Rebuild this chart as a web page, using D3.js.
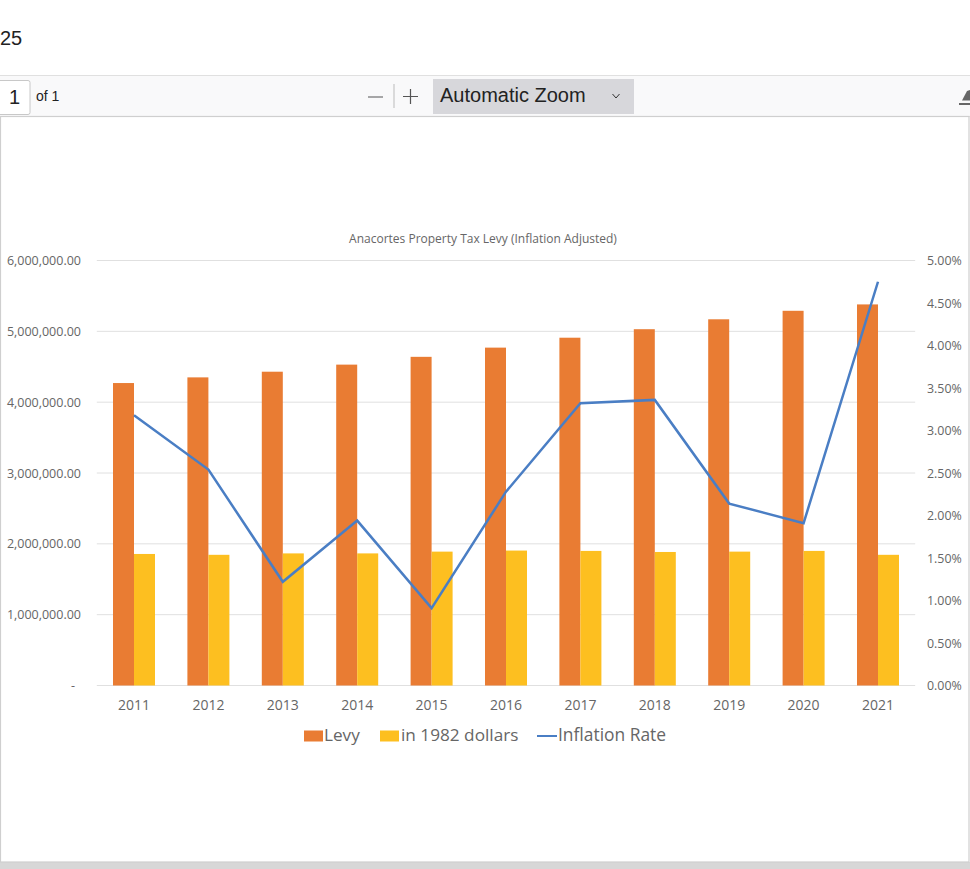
<!DOCTYPE html>
<html>
<head>
<meta charset="utf-8">
<script src="https://cdn.jsdelivr.net/npm/d3@7"></script>
<style>
  html, body { margin: 0; padding: 0; background: #fff; overflow: hidden; }
  svg { display: block; }
  .ui { font-family: "Liberation Sans", Arial, sans-serif; fill: #222; }
  .chart text { font-family: "Open Sans", sans-serif; fill: #666; }
</style>
</head>
<body>
<div id="page"></div>
<script>
'use strict';

var years = [2011, 2012, 2013, 2014, 2015, 2016, 2017, 2018, 2019, 2020, 2021];
var levy = [4270000, 4350000, 4430000, 4530000, 4640000, 4770000, 4910000, 5030000, 5170000, 5290000, 5380000];
var dollars1982 = [1857000, 1845000, 1865000, 1865000, 1890000, 1905000, 1900000, 1885000, 1890000, 1900000, 1845000];
var inflation = [3.18, 2.54, 1.22, 1.94, 0.91, 2.28, 3.32, 3.36, 2.14, 1.91, 4.75];
var leftTicks = [0, 1000000, 2000000, 3000000, 4000000, 5000000, 6000000];
var rightTicks = [0, 0.5, 1, 1.5, 2, 2.5, 3, 3.5, 4, 4.5, 5];

var svg = d3.select('#page').append('svg').attr('width', 970).attr('height', 869);

// viewer chrome
svg.append('rect').attr('width', 970).attr('height', 869).attr('fill', '#fff');
svg.append('text').attr('class', 'ui').attr('x', 0).attr('y', 45).attr('font-size', 20).text('25');
svg.append('rect').attr('x', -1).attr('y', 75.5).attr('width', 972).attr('height', 41).attr('fill', '#f9f9fa').attr('stroke', '#e0e0e0');
svg.append('rect').attr('x', -5).attr('y', 80.5).attr('width', 35).attr('height', 34).attr('rx', 2).attr('fill', '#fff').attr('stroke', '#c8c8c8');
svg.append('text').attr('class', 'ui').attr('x', 9).attr('y', 104).attr('font-size', 20).text('1');
svg.append('text').attr('class', 'ui').attr('x', 36).attr('y', 101).attr('font-size', 14).text('of 1');
svg.append('path').attr('d', 'M368 97 H383 M410.5 89 V104 M403 96.5 H418').attr('fill', 'none').attr('stroke', '#555').attr('stroke-width', 1.2);
svg.append('line').attr('x1', 394).attr('x2', 394).attr('y1', 84).attr('y2', 108).attr('stroke', '#bbb');
svg.append('rect').attr('x', 433).attr('y', 79).attr('width', 201).attr('height', 35).attr('fill', '#d7d7db');
svg.append('text').attr('class', 'ui').attr('x', 440).attr('y', 102).attr('font-size', 20).text('Automatic Zoom');
svg.append('path').attr('d', 'M612.5 94 L616 98 L619.5 94').attr('fill', 'none').attr('stroke', '#333');
svg.append('path').attr('d', 'M962 100.5 L967 91 L970 90 V100.5 Z').attr('fill', '#666');
svg.append('rect').attr('x', 959).attr('y', 103).attr('width', 11).attr('height', 2).attr('fill', '#666');

// pdf page
svg.append('rect').attr('x', 0).attr('y', 862).attr('width', 970).attr('height', 7).attr('fill', '#d7d7d7');
svg.append('rect').attr('x', 0.5).attr('y', 116.5).attr('width', 968.5).attr('height', 745.5).attr('fill', '#fff').attr('stroke', '#cfcfcf').attr('stroke-width', 1.2);

var chart = svg.append('g').attr('class', 'chart');

var x = d3.scaleBand().domain(years).range([96.8, 915.2]);
var bars = d3.scaleBand().domain(['levy', 'real']).range([0, 42]);
var barOffset = (x.bandwidth() - 42) / 2;
var y = d3.scaleLinear().domain([0, 6000000]).range([685.5, 260.5]);
var y2 = d3.scaleLinear().domain([0, 5]).range([685.5, 260.5]);

chart.append('g').selectAll('line').data(leftTicks).enter().append('line')
  .attr('x1', 96.8).attr('x2', 915.2)
  .attr('y1', function(d) { return y(d); })
  .attr('y2', function(d) { return y(d); })
  .attr('stroke', '#e0e0e0').attr('stroke-width', 1);

var leftAxis = d3.axisLeft(y).tickValues(leftTicks).tickSize(0).tickPadding(0)
  .tickFormat(function(d) { return d === 0 ? '-' : d3.format(',.2f')(d); });
var la = chart.append('g').attr('transform', 'translate(81,0)').call(leftAxis);
la.select('.domain').remove();
la.selectAll('text').attr('font-size', 12.5);
la.selectAll('.tick').filter(function(d) { return d === 0; }).select('text').attr('dx', -6);

var rightAxis = d3.axisRight(y2).tickValues(rightTicks).tickSize(0).tickPadding(0)
  .tickFormat(function(d) { return d3.format('.2f')(d) + '%'; });
var ra = chart.append('g').attr('transform', 'translate(927,0.5)').call(rightAxis);
ra.select('.domain').remove();
ra.selectAll('text').attr('font-size', 12.4);

var bottomAxis = d3.axisBottom(x).tickSize(0).tickPadding(0);
var ba = chart.append('g').attr('transform', 'translate(0,700)').call(bottomAxis);
ba.select('.domain').remove();
ba.selectAll('text').attr('font-size', 14);

chart.selectAll('.levy').data(levy).enter().append('rect')
  .attr('class', 'levy')
  .attr('x', function(d, i) { return x(years[i]) + barOffset + bars('levy'); })
  .attr('y', function(d) { return y(d); })
  .attr('width', bars.bandwidth())
  .attr('height', function(d) { return y(0) - y(d); })
  .attr('fill', '#e97c33');

chart.selectAll('.real').data(dollars1982).enter().append('rect')
  .attr('class', 'real')
  .attr('x', function(d, i) { return x(years[i]) + barOffset + bars('real'); })
  .attr('y', function(d) { return y(d); })
  .attr('width', bars.bandwidth())
  .attr('height', function(d) { return y(0) - y(d); })
  .attr('fill', '#fdbf20');

var line = d3.line()
  .x(function(d, i) { return x(years[i]) + x.bandwidth() / 2; })
  .y(function(d) { return y2(d); });

chart.append('path').datum(inflation)
  .attr('d', line)
  .attr('fill', 'none')
  .attr('stroke', '#4a7ec4')
  .attr('stroke-width', 2.5);

chart.append('text').attr('x', 483).attr('y', 243).attr('text-anchor', 'middle')
  .attr('font-size', 12).text('Anacortes Property Tax Levy (Inflation Adjusted)');

// legend
chart.append('rect').attr('x', 304).attr('y', 730.5).attr('width', 19).attr('height', 11).attr('fill', '#e97c33');
chart.append('text').attr('x', 324).attr('y', 741).attr('font-size', 17.2).text('Levy');
chart.append('rect').attr('x', 380).attr('y', 730.5).attr('width', 19).attr('height', 11).attr('fill', '#fdbf20');
chart.append('text').attr('x', 401).attr('y', 741).attr('font-size', 17.2).text('in 1982 dollars');
chart.append('line').attr('x1', 537).attr('x2', 557).attr('y1', 736).attr('y2', 736).attr('stroke', '#4a7ec4').attr('stroke-width', 2);
chart.append('text').attr('x', 558).attr('y', 741).attr('font-size', 17.4).text('Inflation Rate');
</script>
</body>
</html>
